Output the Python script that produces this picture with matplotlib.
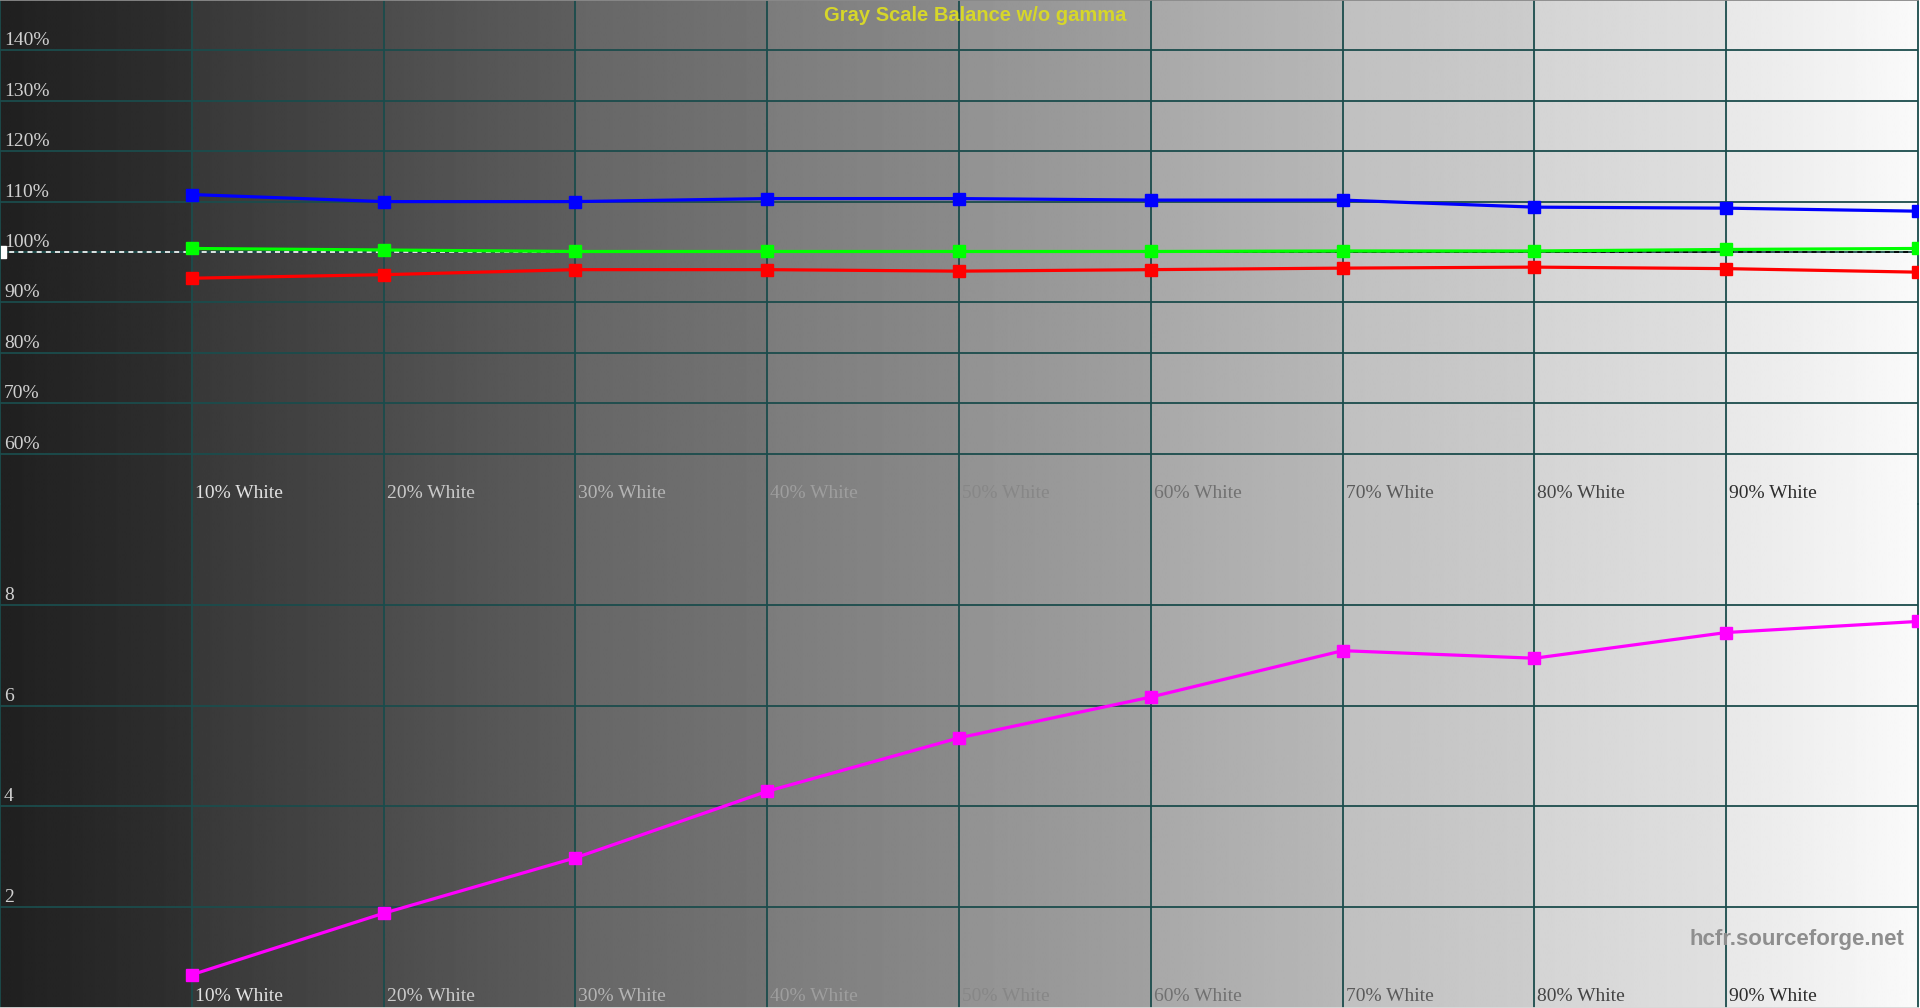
import numpy as np
from matplotlib import pyplot as plt
from matplotlib import transforms

# measured grey levels (percent of white)
levels = [10, 20, 30, 40, 50, 60, 70, 80, 90, 100]
level_labels = ["10% White", "20% White", "30% White", "40% White", "50% White",
                "60% White", "70% White", "80% White", "90% White"]

# RGB balance, percent of target
red = [94.8, 95.5, 96.5, 96.5, 96.2, 96.5, 96.8, 97.0, 96.7, 96.0]
green = [100.7, 100.4, 100.1, 100.1, 100.1, 100.1, 100.2, 100.2, 100.5, 100.7]
blue = [111.4, 110.0, 110.0, 110.6, 110.6, 110.3, 110.3, 108.9, 108.7, 108.1]

# delta E per step
delta_e = [0.66, 1.88, 2.98, 4.30, 5.36, 6.17, 7.09, 6.94, 7.45, 7.67]

balance_ticks = [60, 70, 80, 90, 100, 110, 120, 130, 140]
delta_ticks = [2, 4, 6, 8]

title = "Gray Scale Balance w/o gamma"
watermark = "hcfr.sourceforge.net"

grid_col = "#1b4c4c"
serif = ["Liberation Serif", "DejaVu Serif"]
sans = ["Liberation Sans", "DejaVu Sans"]

# background: one horizontal grey ramp per 10% column
col_start = [0x20, 0x38, 0x4c, 0x66, 0x7c, 0x92, 0xa8, 0xc0, 0xd4, 0xe8]
col_end = [0x30, 0x4a, 0x5e, 0x74, 0x8a, 0xa0, 0xb8, 0xcc, 0xe0, 0xfa]
ramp = np.concatenate([np.linspace(a, b, 100) for a, b in zip(col_start, col_end)]) / 255.0

fig = plt.figure(figsize=(19.2, 10.08), dpi=100)
bg = fig.add_axes([0, 0, 1, 1])
bg.imshow(np.tile(ramp, (2, 1)), cmap="gray", vmin=0, vmax=1, aspect="auto",
          extent=[0, 100, 0, 1], interpolation="bilinear")
bg.set_xlim(0, 100.1)
bg.axis("off")

ax_top = fig.add_axes([0, 0.5, 0.999, 0.5])
ax_bot = fig.add_axes([0, 0.0, 0.999, 0.5])

for ax in (ax_top, ax_bot):
    ax.patch.set_alpha(0)
    ax.set_xlim(0, 100)
    ax.set_xticks([])
    ax.set_yticks([])
    for x in levels[:-1]:
        ax.axvline(x, color=grid_col, lw=1.3, zorder=1)
    for s in ax.spines.values():
        s.set_color(grid_col)
        s.set_linewidth(1.3)
ax_top.spines["top"].set_color("#8a8a8a")
ax_top.spines["bottom"].set_visible(False)
ax_bot.spines["top"].set_visible(False)
ax_bot.spines["bottom"].set_color("#d8d8d8")

ax_top.set_ylim(50, 150)
ax_bot.set_ylim(0, 10)

for y in balance_ticks:
    ax_top.axhline(y, color=grid_col, lw=1.3, zorder=1)
    ax_top.annotate(f"{y}%", xy=(0, y), xytext=(4, 5), textcoords="offset pixels",
                    va="baseline", ha="left", fontsize=14, family=serif, color="#d0d0d0")
for y in delta_ticks:
    ax_bot.axhline(y, color=grid_col, lw=1.3, zorder=1)
    ax_bot.annotate(f"{y}", xy=(0, y), xytext=(4, 5), textcoords="offset pixels",
                    va="baseline", ha="left", fontsize=14, family=serif, color="#d0d0d0")

# step names, text gets darker as the background gets lighter
for ax, yfrac in ((ax_top, 0.011), (ax_bot, 0.013)):
    trans = transforms.blended_transform_factory(ax.transData, ax.transAxes)
    for x, lab in zip(levels, level_labels):
        g = min(max(0.97 - 0.0088 * x, 0), 1)
        ax.annotate(lab, xy=(x, yfrac), xycoords=trans, xytext=(3, 0),
                    textcoords="offset pixels", va="baseline", ha="left",
                    fontsize=14, family=serif, color=(g, g, g))

# 100% reference, white over the dark half and black over the light half
ax_top.plot([0, 50], [100, 100], color="white", lw=1.2, ls=(0, (3, 2.5)), zorder=2)
ax_top.plot([50, 100], [100, 100], color="black", lw=1.2, ls=(0, (3, 2.5)), zorder=2)
ax_top.plot([0], [100], marker="s", ms=8.5, color="white", zorder=2)

ax_top.plot(levels, red, color="#ff0000", lw=2.3, marker="s", ms=8, zorder=3)
ax_top.plot(levels, green, color="#00ff00", lw=2.3, marker="s", ms=8, zorder=3)
ax_top.plot(levels, blue, color="#0000ff", lw=2.3, marker="s", ms=8, zorder=3)

ax_bot.plot(levels, delta_e, color="#ff00ff", lw=2.3, marker="s", ms=8, zorder=3)

fig.text(0.508, 0.994, title, ha="center", va="top", fontsize=14.5,
         fontweight="bold", family=sans, color="#d6d62a")
fig.text(0.992, 0.068, watermark, ha="right", va="center", fontsize=16,
         fontweight="bold", family=sans, color="#8e8e8e")

fig.savefig("out.png", dpi=100)
